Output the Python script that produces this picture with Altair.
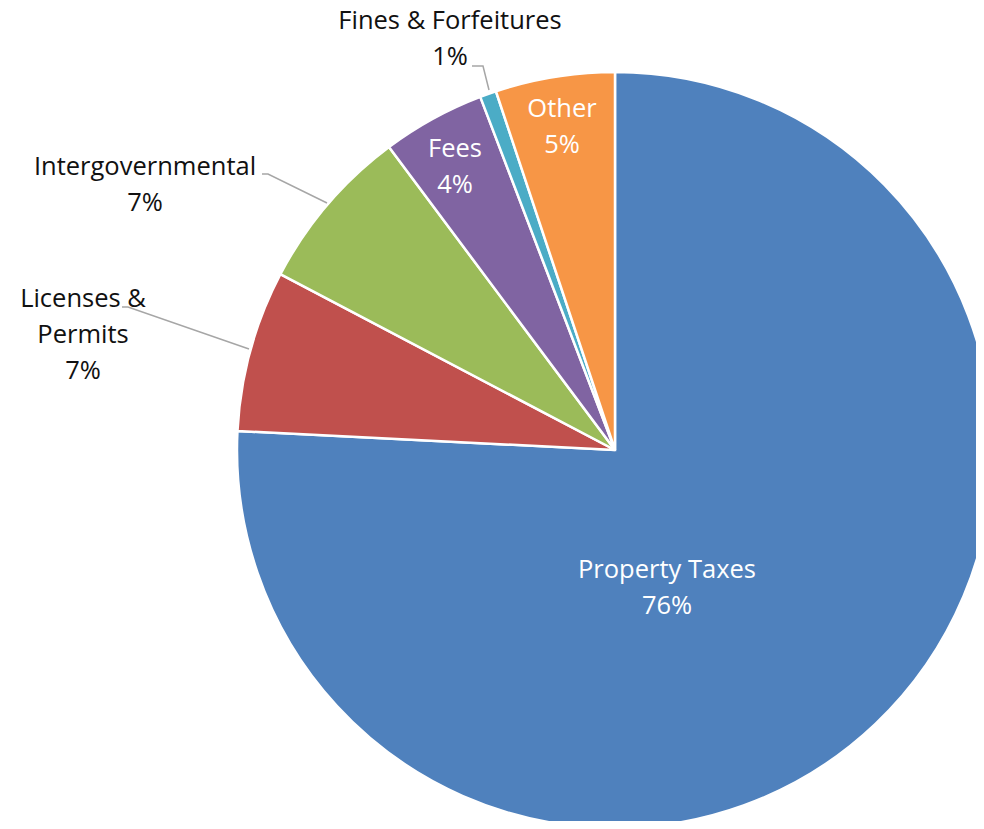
import altair as alt
import pandas as pd

# ---- data ----
categories = ["Property Taxes", "Licenses & Permits", "Intergovernmental", "Fees", "Fines & Forfeitures", "Other"]
values = [75.8, 6.9, 7.1, 4.4, 0.7, 5.1]
colors = ["#4F81BD", "#C0504D", "#9BBB59", "#8064A2", "#4BACC6", "#F79646"]
label_names = ["Property Taxes", "Licenses &\nPermits", "Intergovernmental", "Fees", "Fines & Forfeitures", "Other"]

# ---- layout (annotation placement, px in chart coords) ----
label_x = [659, 75, 137, 447, 442, 554]
label_y = [570, 299, 167, 149, 21, 109]
label_color = ["white", "#111111", "#111111", "white", "#111111", "white"]
leader_lines = {
    "Fines & Forfeitures": [(464, 58), (475, 58), (481, 82)],
    "Intergovernmental": [(254, 166), (260, 166), (319, 195)],
    "Licenses & Permits": [(114, 299), (120, 299), (241, 341)],
}
CX, CY, R = 607, 442, 378
FONT = "Open Sans"

pie_df = pd.DataFrame({"category": categories, "value": values, "idx": range(len(categories))})
lab_df = pd.DataFrame({
    "text": [f"{n}\n{round(v):.0f}%" for n, v in zip(label_names, values)],
    "x": label_x, "y": label_y, "tcolor": label_color,
})
ll_rows = []
for name, pts in leader_lines.items():
    for i, (px, py) in enumerate(pts):
        ll_rows.append({"name": name, "i": i, "x": px, "y": py})
ll_df = pd.DataFrame(ll_rows)

pie = alt.Chart(pie_df).mark_arc(radius=R, stroke="white", strokeWidth=2.5).encode(
    theta=alt.Theta("value:Q", stack=True),
    order=alt.Order("idx:Q"),
    color=alt.Color("category:N", scale=alt.Scale(domain=categories, range=colors), legend=None),
    x=alt.value(CX),
    y=alt.value(CY),
)

leaders = alt.Chart(ll_df).mark_line(color="#A6A6A6", strokeWidth=1.5).encode(
    x=alt.X("x:Q", scale=None),
    y=alt.Y("y:Q", scale=None),
    detail="name:N",
    order="i:Q",
)

labels = alt.Chart(lab_df).mark_text(
    font=FONT, fontSize=25.5, align="center", baseline="alphabetic", lineBreak="\n", lineHeight=36
).encode(
    x=alt.X("x:Q", scale=None),
    y=alt.Y("y:Q", scale=None),
    text="text:N",
    color=alt.Color("tcolor:N", scale=None),
)

chart = alt.layer(pie, leaders, labels).properties(
    width=968, height=813, autosize=alt.AutoSizeParams(type="none"), padding=0
).configure_view(stroke=None)

chart.save("out.html", embed_options={"renderer": "svg", "actions": False})
